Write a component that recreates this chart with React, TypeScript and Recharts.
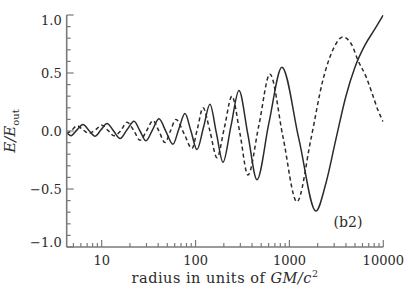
import React from 'react';
import { LineChart, Line, XAxis, YAxis, Customized } from 'recharts';

// ---- data ----
const solidR = [4.24, 4.71, 5.46, 6.32, 7.32, 8.49, 9.83, 11.4, 13.4, 15.7, 18.6, 22.1, 25.6, 29.6, 34.8, 40.7, 48.4, 57.4, 66.5, 77.1, 89.3, 103.5, 121.4, 142.3, 167, 195.9, 238, 290, 361, 451, 605, 832, 1262, 1914, 2447, 3128, 3997, 4988, 6373, 8143, 10000];
const solidE = [-0.015, -0.04, 0.01, 0.055, 0.005, -0.045, 0.01, 0.065, 0.0, -0.065, 0.01, 0.085, 0.0, -0.085, 0.01, 0.105, -0.005, -0.115, 0.02, 0.15, 0.0, -0.16, 0.03, 0.23, -0.02, -0.27, 0.04, 0.35, -0.03, -0.42, 0.07, 0.55, -0.07, -0.69, -0.45, -0.07, 0.3, 0.55, 0.74, 0.88, 1.0];

const dashedR = [4.24, 4.71, 5.46, 6.32, 7.32, 8.59, 10.07, 11.67, 13.52, 15.86, 18.6, 21.8, 25.6, 30.0, 35.2, 40.7, 47.2, 54.0, 61.8, 75.2, 91.6, 104.7, 120, 142.3, 169, 203, 244, 297, 361, 473, 620, 853, 1202, 1694, 2274, 2906, 3715, 4634, 5370, 6537, 7564, 8767, 10000];
const dashedE = [-0.02, 0.0, 0.045, 0.01, -0.02, 0.01, 0.05, 0.005, -0.04, 0.0, 0.075, 0.01, -0.08, 0.0, 0.09, 0.0, -0.1, 0.0, 0.1, -0.02, -0.15, 0.02, 0.2, 0.0, -0.23, 0.03, 0.3, -0.02, -0.38, 0.05, 0.49, -0.05, -0.61, -0.07, 0.44, 0.7, 0.81, 0.74, 0.61, 0.47, 0.33, 0.18, 0.08];

const xMajor = [10, 100, 1000, 10000];
const xMinor = [5, 6, 7, 8, 9, 20, 30, 40, 50, 60, 70, 80, 90, 200, 300, 400, 500, 600, 700, 800, 900, 2000, 3000, 4000, 5000, 6000, 7000, 8000, 9000];
const yMajor = [-1, -0.5, 0, 0.5, 1];
const yMajorLabels = ['\u22121.0', '\u22120.5', '0.0', '0.5', '1.0'];
const yMinor = [-0.9, -0.8, -0.7, -0.6, -0.4, -0.3, -0.2, -0.1, 0.1, 0.2, 0.3, 0.4, 0.6, 0.7, 0.8, 0.9];

const xDomain = [4.24, 10000];
const yDomain = [-1, 1];

const solidData = solidR.map((r, i) => ({ r, e: solidE[i] }));
const dashedData = dashedR.map((r, i) => ({ r, e: dashedE[i] }));
const xTicks = [...xMinor, ...xMajor].sort((a, b) => a - b);
const yTicks = [...yMinor, ...yMajor].sort((a, b) => a - b);

// ---- styles ----
const FONT = '"DejaVu Serif", serif';
const INK = '#2b2b2b';
const FRAME = '#7a7a7a';
const MAJ = 7;
const MIN = 4;

const isXMajor = (v: number) => xMajor.some((m) => Math.abs(m - v) < 1e-9);
const yMajorIndex = (v: number) => yMajor.findIndex((m) => Math.abs(m - v) < 1e-9);

const BottomTick = (props: any) => {
  const { x, y, payload } = props;
  const v = payload.value;
  const major = isXMajor(v);
  return (
    <g>
      <line x1={x} x2={x} y1={y} y2={y - (major ? MAJ : MIN)} stroke={FRAME} strokeWidth={1.2} />
      {major && (
        <text x={x} y={y + 18} textAnchor="middle" fontFamily={FONT} fontSize={13} fill={INK}>
          {String(v)}
        </text>
      )}
    </g>
  );
};

const TopTick = (props: any) => {
  const { x, y, payload } = props;
  const major = isXMajor(payload.value);
  return <line x1={x} x2={x} y1={y} y2={y + (major ? MAJ : MIN)} stroke={FRAME} strokeWidth={1.2} />;
};

const LeftTick = (props: any) => {
  const { x, y, payload } = props;
  const idx = yMajorIndex(payload.value);
  const major = idx >= 0;
  const v = payload.value;
  const shift = v >= 1 ? 5 : v <= -1 ? -5 : 0;
  return (
    <g>
      <line x1={x} x2={x + (major ? MAJ : MIN)} y1={y} y2={y} stroke={FRAME} strokeWidth={1.2} />
      {major && (
        <text x={x - 5} y={y + 4.7 + shift} textAnchor="end" fontFamily={FONT} fontSize={13} fill={INK}>
          {yMajorLabels[idx]}
        </text>
      )}
    </g>
  );
};

const RightTick = (props: any) => {
  const { x, y, payload } = props;
  const major = yMajorIndex(payload.value) >= 0;
  return <line x1={x} x2={x - (major ? MAJ : MIN)} y1={y} y2={y} stroke={FRAME} strokeWidth={1.2} />;
};

const Annotations = () => (
  <g>
    <text x={225} y={283} textAnchor="middle" fontFamily={FONT} fontSize={14.5} letterSpacing={0.5} fill={INK}>
      radius in units of{' '}
      <tspan fontStyle="italic">GM/c</tspan>
      <tspan dy={-6} fontSize={9.5}>2</tspan>
    </text>
    <text
      x={15}
      y={131}
      transform="rotate(-90 15 131)"
      textAnchor="middle"
      fontFamily={FONT}
      fontSize={15}
      fill={INK}
    >
      <tspan fontStyle="italic">E/E</tspan>
      <tspan dy={4} fontSize={10}>out</tspan>
    </text>
    <text x={348} y={227} textAnchor="middle" fontFamily={FONT} fontSize={14} fill={INK}>
      (b2)
    </text>
  </g>
);

export default function App() {
  return (
    <div style={{ position: 'absolute', left: 0, top: 0, background: '#fff' }}>
      <LineChart width={408} height={291} margin={{ top: 15, right: 24.7, bottom: 14, left: 0 }}>
        <XAxis
          xAxisId="b"
          dataKey="r"
          type="number"
          scale="log"
          domain={xDomain}
          allowDataOverflow
          ticks={xTicks}
          interval={0}
          tickSize={0}
          tickMargin={0}
          tick={<BottomTick />}
          tickLine={false}
          axisLine={{ stroke: FRAME, strokeWidth: 1.6 }}
          height={30}
        />
        <XAxis
          xAxisId="t"
          orientation="top"
          dataKey="r"
          type="number"
          scale="log"
          domain={xDomain}
          allowDataOverflow
          ticks={xTicks}
          interval={0}
          tickSize={0}
          tickMargin={0}
          tick={<TopTick />}
          tickLine={false}
          axisLine={{ stroke: FRAME, strokeWidth: 1.6 }}
          height={0}
        />
        <YAxis
          yAxisId="l"
          type="number"
          domain={yDomain}
          allowDataOverflow
          ticks={yTicks}
          interval={0}
          tickSize={0}
          tickMargin={0}
          tick={<LeftTick />}
          tickLine={false}
          axisLine={{ stroke: FRAME, strokeWidth: 1.6 }}
          width={66.7}
        />
        <YAxis
          yAxisId="r"
          orientation="right"
          type="number"
          domain={yDomain}
          allowDataOverflow
          ticks={yTicks}
          interval={0}
          tickSize={0}
          tickMargin={0}
          tick={<RightTick />}
          tickLine={false}
          axisLine={{ stroke: FRAME, strokeWidth: 1.6 }}
          width={0}
        />
        <Line
          xAxisId="b"
          yAxisId="l"
          data={dashedData}
          dataKey="e"
          type="monotone"
          stroke={INK}
          strokeWidth={1.5}
          strokeDasharray="4 3"
          dot={false}
          isAnimationActive={false}
        />
        <Line
          xAxisId="b"
          yAxisId="l"
          data={solidData}
          dataKey="e"
          type="monotone"
          stroke={INK}
          strokeWidth={1.5}
          dot={false}
          isAnimationActive={false}
        />
        <Customized component={Annotations} />
      </LineChart>
    </div>
  );
}
